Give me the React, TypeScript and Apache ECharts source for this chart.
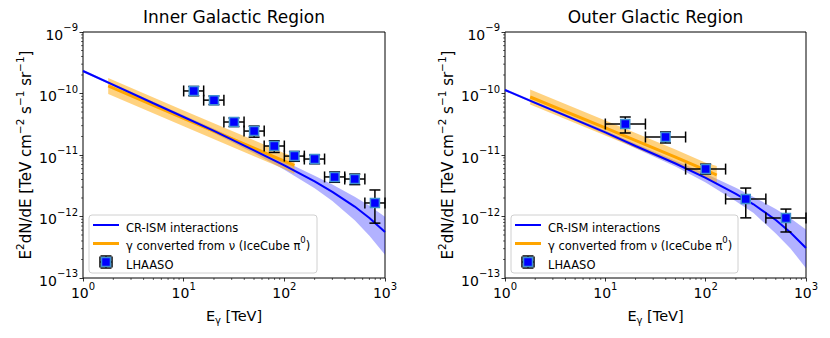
import React, { useEffect, useRef } from 'react';
import * as echarts from 'echarts';

const FONT = 'DejaVu Sans';

// ---------------- Data ----------------
// Model energies (TeV)
const modelE = [1, 2, 5, 10, 20, 50, 100, 200, 300, 500, 700, 1000];

// Inner Galactic Region: CR-ISM interactions (E^2 dN/dE)
const innerCR = [2.32e-10, 1.38e-10, 6.95e-11, 4.15e-11, 2.47e-11, 1.19e-11, 6.8e-12, 3.72e-12, 2.51e-12, 1.45e-12, 9.46e-13, 5.6e-13];
const innerCRHi = [2.43e-10, 1.45e-10, 7.36e-11, 4.45e-11, 2.68e-11, 1.32e-11, 7.91e-12, 4.58e-12, 3.31e-12, 2.09e-12, 1.5e-12, 9.95e-13];
const innerCRLo = [2.22e-10, 1.32e-10, 6.56e-11, 3.87e-11, 2.28e-11, 1.07e-11, 5.73e-12, 2.89e-12, 1.78e-12, 8.7e-13, 4.85e-13, 2.39e-13];

// Inner: gamma converted from neutrino (IceCube pi0)
const innerIcE = [1.78, 10, 50, 100, 126];
const innerIc = [1.33e-10, 3.95e-11, 1.29e-11, 7.98e-12, 6.8e-12];
const innerIcHi = [1.79e-10, 5.3e-11, 1.73e-11, 1.07e-11, 9.4e-12];
const innerIcLo = [9.8e-11, 2.93e-11, 9.5e-12, 5.9e-12, 4.9e-12];

// Inner: LHAASO points
const innerLhE = [12.6, 20, 31.6, 50.1, 79.4, 126, 200, 316, 501, 794];
const innerLhElo = [10, 15.8, 25.1, 39.8, 63.1, 100, 158, 251, 398, 631];
const innerLhEhi = [15.8, 25.1, 39.8, 63.1, 100, 158, 251, 398, 631, 1000];
const innerLh = [1.1e-10, 7.8e-11, 3.44e-11, 2.45e-11, 1.4e-11, 9.6e-12, 8.6e-12, 4.4e-12, 4.07e-12, 1.66e-12];
const innerLhLo = [9.2e-11, 6.6e-11, 2.9e-11, 1.95e-11, 1.1e-11, 7.9e-12, 7.2e-12, 3.6e-12, 3.3e-12, 7.8e-13];
const innerLhHi = [1.3e-10, 9.1e-11, 4.0e-11, 2.95e-11, 1.7e-11, 1.14e-11, 1.0e-11, 5.3e-12, 4.9e-12, 2.7e-12];

// Outer Galactic Region: CR-ISM interactions
const outerCR = [1.14e-10, 7.06e-11, 3.77e-11, 2.33e-11, 1.4e-11, 7.28e-12, 4.26e-12, 2.34e-12, 1.58e-12, 8.77e-13, 5.5e-13, 3.08e-13];
const outerCRHi = [1.19e-10, 7.4e-11, 3.99e-11, 2.5e-11, 1.52e-11, 8.07e-12, 4.94e-12, 2.94e-12, 2.08e-12, 1.33e-12, 9.35e-13, 6.14e-13];
const outerCRLo = [1.09e-10, 6.75e-11, 3.56e-11, 2.18e-11, 1.29e-11, 6.49e-12, 3.58e-12, 1.77e-12, 1.14e-12, 5.28e-13, 3.03e-13, 1.44e-13];

// Outer: IceCube pi0
const outerIcE = [1.78, 10, 50, 100, 129];
const outerIc = [8.77e-11, 2.75e-11, 9.27e-12, 5.7e-12, 4.73e-12];
const outerIcHi = [1.16e-10, 3.63e-11, 1.23e-11, 7.5e-12, 6.62e-12];
const outerIcLo = [6.62e-11, 2.08e-11, 7.0e-12, 4.3e-12, 3.38e-12];

// Outer: LHAASO points
const outerLhE = [15.8, 39.8, 100, 251, 631];
const outerLhElo = [10, 25.1, 63.1, 158, 398];
const outerLhEhi = [25.1, 63.1, 158, 398, 1000];
const outerLh = [3.19e-11, 1.96e-11, 5.9e-12, 1.93e-12, 9.46e-13];
const outerLhLo = [2.28e-11, 1.57e-11, 4.9e-12, 9.5e-13, 5.6e-13];
const outerLhHi = [4.15e-11, 2.37e-11, 7.1e-12, 2.9e-12, 1.32e-12];

// Axes
const xRange = [1, 1000];
const yRange = [1e-13, 1e-9];
const minorMult = [2, 3, 4, 5, 6, 7, 8, 9];
const xDecades = [1, 10, 100];
const yDecades = [1e-13, 1e-12, 1e-11, 1e-10];

const titles = ['Inner Galactic Region', 'Outer Glactic Region'];
const legendNames = ['CR-ISM interactions', 'γ converted from ν (IceCube π0)', 'LHAASO'];

// ---------------- Layout ----------------
const grids = [
  { left: 83, top: 32, width: 302, height: 246 },
  { left: 505, top: 32, width: 301, height: 246 },
];

const BLUE = '#0000ff';
const ORANGE = '#ffa500';
const MARKER_EDGE = '#3f8fd2';

const supRich = {
  b: { fontSize: 14, fontFamily: FONT, color: '#000', lineHeight: 19, verticalAlign: 'bottom' },
  sup: { fontSize: 10, fontFamily: FONT, color: '#000', lineHeight: 19, verticalAlign: 'top' },
};

const tickFmt = (v: number) => {
  const e = Math.round(Math.log10(v));
  const s = e < 0 ? '−' + Math.abs(e) : String(e);
  return `{b|10}{sup|${s}}`;
};

function band(p: number, E: number[], lo: number[], hi: number[], color: string, z: number) {
  return {
    type: 'custom',
    xAxisIndex: p,
    yAxisIndex: p,
    z,
    silent: true,
    clip: true,
    data: [[E[0], lo[0]]],
    encode: { x: 0, y: 1 },
    renderItem: (params: any, api: any) => {
      const top = E.map((e, i) => api.coord([e, hi[i]]));
      const bot = E.map((e, i) => api.coord([e, lo[i]])).reverse();
      return {
        type: 'polygon',
        shape: { points: top.concat(bot) },
        style: { fill: color, stroke: 'none' },
      };
    },
  };
}

function errorBars(p: number, E: number[], Elo: number[], Ehi: number[], F: number[], Flo: number[], Fhi: number[]) {
  return {
    type: 'custom',
    xAxisIndex: p,
    yAxisIndex: p,
    z: 5,
    silent: true,
    clip: false,
    data: E.map((e, i) => [e, F[i], Elo[i], Ehi[i], Flo[i], Fhi[i]]),
    encode: { x: 0, y: 1 },
    renderItem: (params: any, api: any) => {
      const e = api.value(0), f = api.value(1);
      const c = api.coord([e, f]);
      const l = api.coord([api.value(2), f]);
      const r = api.coord([api.value(3), f]);
      const t = api.coord([e, api.value(5)]);
      const b = api.coord([e, api.value(4)]);
      const cap = 5.5;
      const st = { stroke: '#000', lineWidth: 1.5 };
      const ln = (x1: number, y1: number, x2: number, y2: number) => ({ type: 'line', shape: { x1, y1, x2, y2 }, style: st });
      return {
        type: 'group',
        children: [
          ln(l[0], c[1], r[0], c[1]),
          ln(c[0], t[1], c[0], b[1]),
          ln(l[0], c[1] - cap, l[0], c[1] + cap),
          ln(r[0], c[1] - cap, r[0], c[1] + cap),
          ln(c[0] - cap, t[1], c[0] + cap, t[1]),
          ln(c[0] - cap, b[1], c[0] + cap, b[1]),
        ],
      };
    },
  };
}

function minorTicks(p: number) {
  return {
    type: 'custom',
    xAxisIndex: p,
    yAxisIndex: p,
    z: 8,
    silent: true,
    clip: false,
    data: [[10, 1e-11]],
    encode: { x: 0, y: 1 },
    renderItem: (params: any, api: any) => {
      const cs = params.coordSys;
      const bottom = cs.y + cs.height;
      const left = cs.x;
      const children: any[] = [];
      xDecades.forEach((d) =>
        minorMult.forEach((k) => {
          const px = api.coord([k * d, 1e-11])[0];
          children.push({ type: 'line', shape: { x1: px, y1: bottom, x2: px, y2: bottom + 2 }, style: { stroke: '#000', lineWidth: 0.6 } });
        })
      );
      yDecades.forEach((d) =>
        minorMult.forEach((k) => {
          const py = api.coord([10, k * d])[1];
          children.push({ type: 'line', shape: { x1: left - 2, y1: py, x2: left, y2: py }, style: { stroke: '#000', lineWidth: 0.6 } });
        })
      );
      return { type: 'group', children };
    },
  };
}

function panel(p: number, d: any) {
  return [
    band(p, modelE, d.crLo, d.crHi, 'rgba(0,0,255,0.3)', 1),
    band(p, d.icE, d.icLo, d.icHi, 'rgba(255,165,0,0.5)', 2),
    {
      type: 'line',
      name: legendNames[1],
      xAxisIndex: p,
      yAxisIndex: p,
      z: 3,
      silent: true,
      symbol: 'none',
      data: d.icE.map((e: number, i: number) => [e, d.ic[i]]),
      lineStyle: { color: ORANGE, width: 3 },
    },
    {
      type: 'line',
      name: legendNames[0],
      xAxisIndex: p,
      yAxisIndex: p,
      z: 4,
      silent: true,
      symbol: 'none',
      data: modelE.map((e, i) => [e, d.cr[i]]),
      lineStyle: { color: BLUE, width: 2 },
    },
    errorBars(p, d.lhE, d.lhElo, d.lhEhi, d.lh, d.lhLo, d.lhHi),
    {
      type: 'scatter',
      name: legendNames[2],
      xAxisIndex: p,
      yAxisIndex: p,
      z: 6,
      silent: true,
      symbol: 'rect',
      symbolSize: 9,
      data: d.lhE.map((e: number, i: number) => [e, d.lh[i]]),
      itemStyle: { color: BLUE, borderColor: MARKER_EDGE, borderWidth: 1.5, opacity: 1 },
    },
    minorTicks(p),
  ];
}

function legendGraphic(x0: number, w: number) {
  const rows = [225, 243.5, 262];
  const hx1 = x0 + 4, hx2 = x0 + 30, tx = x0 + 37;
  const cx = x0 + 17;
  const cap = 5.5;
  const st = { stroke: '#000', lineWidth: 1.5 };
  const textStyle = (text: string, y: number) => ({
    type: 'text',
    x: tx,
    y,
    style: {
      text,
      fill: '#000',
      fontSize: 11.5,
      fontFamily: FONT,
      verticalAlign: 'middle',
      align: 'left',
      rich: {
        n: { fontSize: 11.5, fontFamily: FONT, lineHeight: 17, verticalAlign: 'bottom' },
        sup: { fontSize: 8.5, fontFamily: FONT, lineHeight: 17, verticalAlign: 'top' },
      },
    },
    z: 101,
  });
  return {
    type: 'group',
    z: 100,
    children: [
      {
        type: 'rect',
        shape: { x: x0, y: 215, width: w, height: 58, r: 3 },
        style: { fill: 'rgba(255,255,255,0.8)', stroke: '#d0d0d0', lineWidth: 1 },
        z: 100,
      },
      { type: 'line', shape: { x1: hx1, y1: rows[0], x2: hx2, y2: rows[0] }, style: { stroke: BLUE, lineWidth: 2 }, z: 101 },
      { type: 'line', shape: { x1: hx1, y1: rows[1], x2: hx2, y2: rows[1] }, style: { stroke: ORANGE, lineWidth: 3 }, z: 101 },
      { type: 'line', shape: { x1: cx - 6, y1: rows[2], x2: cx + 6, y2: rows[2] }, style: st, z: 101 },
      { type: 'line', shape: { x1: cx, y1: rows[2] - 6, x2: cx, y2: rows[2] + 6 }, style: st, z: 101 },
      { type: 'line', shape: { x1: cx - 6, y1: rows[2] - cap, x2: cx - 6, y2: rows[2] + cap }, style: st, z: 101 },
      { type: 'line', shape: { x1: cx + 6, y1: rows[2] - cap, x2: cx + 6, y2: rows[2] + cap }, style: st, z: 101 },
      { type: 'line', shape: { x1: cx - cap, y1: rows[2] - 6, x2: cx + cap, y2: rows[2] - 6 }, style: st, z: 101 },
      { type: 'line', shape: { x1: cx - cap, y1: rows[2] + 6, x2: cx + cap, y2: rows[2] + 6 }, style: st, z: 101 },
      {
        type: 'rect',
        shape: { x: cx - 4.5, y: rows[2] - 4.5, width: 9, height: 9 },
        style: { fill: BLUE, stroke: MARKER_EDGE, lineWidth: 1.5 },
        z: 102,
      },
      textStyle(`{n|${legendNames[0]}}`, rows[0]),
      textStyle('{n|γ converted from ν (IceCube π}{sup|0}{n|)}', rows[1]),
      textStyle(`{n|${legendNames[2]}}`, rows[2]),
    ],
  };
}

function buildOption(): any {
  const axisCommon = {
    axisLine: { show: false },
    axisTick: { show: true, length: 3.5, lineStyle: { color: '#000', width: 0.8 } },
    splitLine: { show: false },
    minorTick: { show: false },
  };
  const xAxis = [0, 1].map((i) => ({
    ...axisCommon,
    type: 'log',
    logBase: 10,
    gridIndex: i,
    min: xRange[0],
    max: xRange[1],
    axisLabel: { formatter: tickFmt, rich: supRich, margin: 3, color: '#000' },
    name: '{b|E}{sub|γ}{b| [TeV]}',
    nameLocation: 'middle',
    nameGap: 30,
    nameTextStyle: {
      rich: {
        b: { fontSize: 14.5, fontFamily: FONT, color: '#000', lineHeight: 17, verticalAlign: 'top' },
        sub: { fontSize: 10, fontFamily: FONT, color: '#000', lineHeight: 17, verticalAlign: 'bottom' },
      },
    },
  }));
  const yAxis = [0, 1].map((i) => ({
    ...axisCommon,
    type: 'log',
    logBase: 10,
    gridIndex: i,
    min: yRange[0],
    max: yRange[1],
    axisLabel: { formatter: tickFmt, rich: supRich, margin: 5, color: '#000' },
    name: '{b|E}{sup|2}{b|dN/dE [TeV cm}{sup|−2}{b| s}{sup|−1}{b| sr}{sup|−1}{b|]}',
    nameLocation: 'middle',
    nameGap: 50,
    nameTextStyle: {
      rich: {
        b: { fontSize: 15, fontFamily: FONT, color: '#000', lineHeight: 19, verticalAlign: 'bottom' },
        sup: { fontSize: 10.5, fontFamily: FONT, color: '#000', lineHeight: 19, verticalAlign: 'top' },
      },
    },
  }));

  const inner = {
    cr: innerCR, crHi: innerCRHi, crLo: innerCRLo,
    icE: innerIcE, ic: innerIc, icHi: innerIcHi, icLo: innerIcLo,
    lhE: innerLhE, lhElo: innerLhElo, lhEhi: innerLhEhi, lh: innerLh, lhLo: innerLhLo, lhHi: innerLhHi,
  };
  const outer = {
    cr: outerCR, crHi: outerCRHi, crLo: outerCRLo,
    icE: outerIcE, ic: outerIc, icHi: outerIcHi, icLo: outerIcLo,
    lhE: outerLhE, lhElo: outerLhElo, lhEhi: outerLhEhi, lh: outerLh, lhLo: outerLhLo, lhHi: outerLhHi,
  };

  return {
    animation: false,
    backgroundColor: '#fff',
    grid: grids.map((g) => ({ ...g, show: true, borderColor: '#000', borderWidth: 1, backgroundColor: 'transparent', containLabel: false })),
    xAxis,
    yAxis,
    series: [...panel(0, inner), ...panel(1, outer)],
    graphic: [
      ...titles.map((t, i) => ({
        type: 'text',
        x: grids[i].left + grids[i].width / 2,
        y: 17,
        style: { text: t, fontSize: 17, fontFamily: FONT, fill: '#000', align: 'center', verticalAlign: 'middle' },
      })),
      legendGraphic(89, 228),
      legendGraphic(511, 227),
    ],
  };
}

export default function App() {
  const ref = useRef<HTMLDivElement>(null);
  useEffect(() => {
    const chart = echarts.init(ref.current!, null, { renderer: 'svg' });
    chart.setOption(buildOption());
    return () => chart.dispose();
  }, []);
  return (
    <div
      ref={ref}
      style={{ position: 'fixed', left: 0, top: 0, width: 830, height: 338, background: '#fff' }}
    />
  );
}
